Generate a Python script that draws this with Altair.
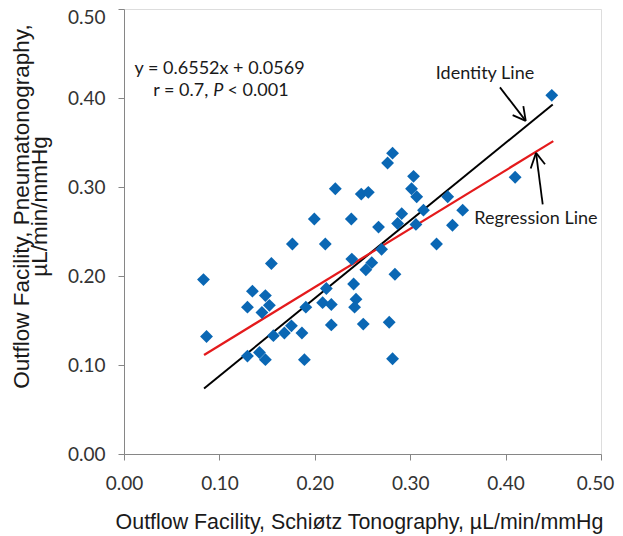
import altair as alt
import pandas as pd

# Scatter data (Schiøtz tonography vs pneumatonography outflow facility)
schiotz = [0.0833, 0.0865, 0.1294, 0.1346, 0.1482, 0.1524, 0.1446, 0.1545, 0.1294, 0.1420,
           0.1482, 0.1566, 0.1681, 0.1755, 0.1865, 0.1891, 0.1765, 0.1995, 0.2110, 0.2215,
           0.1906, 0.2082, 0.2173, 0.2121, 0.2173, 0.2383, 0.2388, 0.2407, 0.2432, 0.2417,
           0.2508, 0.2535, 0.2597, 0.2487, 0.2561, 0.2668, 0.2700, 0.2763, 0.2815, 0.2780,
           0.2815, 0.2840, 0.2868, 0.2911, 0.3014, 0.3035, 0.3068, 0.3060, 0.3139, 0.3276,
           0.3393, 0.3443, 0.3550, 0.4100, 0.4484]
pneumato = [0.196, 0.132, 0.165, 0.183, 0.178, 0.167, 0.159, 0.214, 0.110, 0.114,
            0.106, 0.133, 0.136, 0.144, 0.136, 0.106, 0.236, 0.264, 0.236, 0.298,
            0.165, 0.170, 0.168, 0.186, 0.145, 0.264, 0.219, 0.191, 0.174, 0.165,
            0.146, 0.207, 0.215, 0.292, 0.294, 0.255, 0.230, 0.327, 0.338, 0.148,
            0.107, 0.202, 0.259, 0.270, 0.298, 0.312, 0.289, 0.258, 0.274, 0.236,
            0.289, 0.257, 0.274, 0.311, 0.403]

# Lines as drawn in the figure
identity_x = [0.0839, 0.4494]
identity_y = [0.0736, 0.3927]
regression_x = [0.0839, 0.4500]
regression_y = [0.1113, 0.3515]

# Annotation arrows (segments: shaft + two barbs)
arrow_x = [0.3941, 0.4074, 0.4186, 0.4389, 0.4263, 0.4413]
arrow_y = [0.4119, 0.3807, 0.3909, 0.2805, 0.3207, 0.3256]
arrow_x2 = [0.4211, 0.4211, 0.4211, 0.4319, 0.4319, 0.4319]
arrow_y2 = [0.3743, 0.3743, 0.3743, 0.3383, 0.3383, 0.3383]

x_ticks = [0.0, 0.1, 0.2, 0.3, 0.4, 0.5]
y_ticks = [0.0, 0.1, 0.2, 0.3, 0.4, 0.5]

pts = pd.DataFrame({"x": schiotz, "y": pneumato})
ident = pd.DataFrame({"x": identity_x, "y": identity_y})
reg = pd.DataFrame({"x": regression_x, "y": regression_y})
arrows = pd.DataFrame({"x": arrow_x, "y": arrow_y, "x2": arrow_x2, "y2": arrow_y2})

xscale = alt.Scale(domain=[0, 0.5], nice=False)
yscale = alt.Scale(domain=[0, 0.5], nice=False)

AXIS_COL = "#868686"

xaxis = alt.Axis(values=x_ticks, format=".2f", grid=False,
                 title="Outflow Facility, Schiøtz Tonography, µL/min/mmHg",
                 titleFont="Liberation Sans", titleFontSize=21.4, titleFontWeight="normal",
                 titleColor="#1a1a1a", titleX=235, titleY=74, titleBaseline="alphabetic",
                 labelFont="Lato", labelFontSize=19, labelColor="#333333",
                 labelBaseline="middle", labelPadding=23, labelFlush=False,
                 labelOffset=alt.expr("datum.value >= 0.5 ? -6 : 0"),
                 domainColor=AXIS_COL, tickColor=AXIS_COL, tickSize=6)
yaxis = alt.Axis(values=y_ticks, format=".2f", grid=False,
                 title=["Outflow Facility, Pneumatonography,", "µL/min/mmHg"],
                 titleFont="Liberation Sans", titleFontSize=22.5, titleFontWeight="normal",
                 titleColor="#1a1a1a", titleX=-96, titleY=197, titleAlign="center",
                 titleBaseline="alphabetic", titleLineHeight=18,
                 labelFont="Lato", labelFontSize=19, labelColor="#333333",
                 labelPadding=13, labelFlush=False,
                 labelOffset=alt.expr("datum.value >= 0.5 ? 8 : 0"),
                 domainColor=AXIS_COL, tickColor=AXIS_COL, tickSize=6)

points = alt.Chart(pts).mark_point(shape="diamond", filled=True, size=165,
                                   color="#0A67B4", opacity=1).encode(
    x=alt.X("x:Q", scale=xscale, axis=xaxis),
    y=alt.Y("y:Q", scale=yscale, axis=yaxis),
)

ident_line = alt.Chart(ident).mark_line(color="black", strokeWidth=2).encode(
    x=alt.X("x:Q", scale=xscale), y=alt.Y("y:Q", scale=yscale))
reg_line = alt.Chart(reg).mark_line(color="#E41A1C", strokeWidth=2.2).encode(
    x=alt.X("x:Q", scale=xscale), y=alt.Y("y:Q", scale=yscale))

arrow_rules = alt.Chart(arrows).mark_rule(color="black", strokeWidth=1.8).encode(
    x=alt.X("x:Q", scale=xscale), y=alt.Y("y:Q", scale=yscale),
    x2="x2:Q", y2="y2:Q")

def txt(s, x, y, align="left", style="normal", size=18):
    return alt.Chart(pd.DataFrame({"t": [s]})).mark_text(
        font="Lato", fontSize=size, align=align, baseline="middle",
        fontStyle=style, color="#1a1a1a").encode(
        x=alt.datum(x), y=alt.datum(y), text="t:N")

annotations = [
    txt("y = 0.6552x + 0.0569", 0.1002, 0.4325, align="center"),
    txt("r = 0.7,", 0.0307, 0.4081),
    txt("P", 0.0935, 0.4081, style="italic"),
    txt("< 0.001", 0.1085, 0.4081),
    txt("Identity Line", 0.3784, 0.4270, align="center"),
    txt("Regression Line", 0.4318, 0.2635, align="center"),
]

chart = alt.layer(ident_line, reg_line, points, arrow_rules, *annotations).properties(
    width=477, height=445,
    padding={"left": 116, "top": 1, "right": 14, "bottom": 84},
    autosize=alt.AutoSizeParams(type="none"),
).configure_view(stroke="#9a9a9a", strokeWidth=1.5).configure(background="white")

chart.save("out.html", embed_options={"renderer": "svg", "actions": False})
